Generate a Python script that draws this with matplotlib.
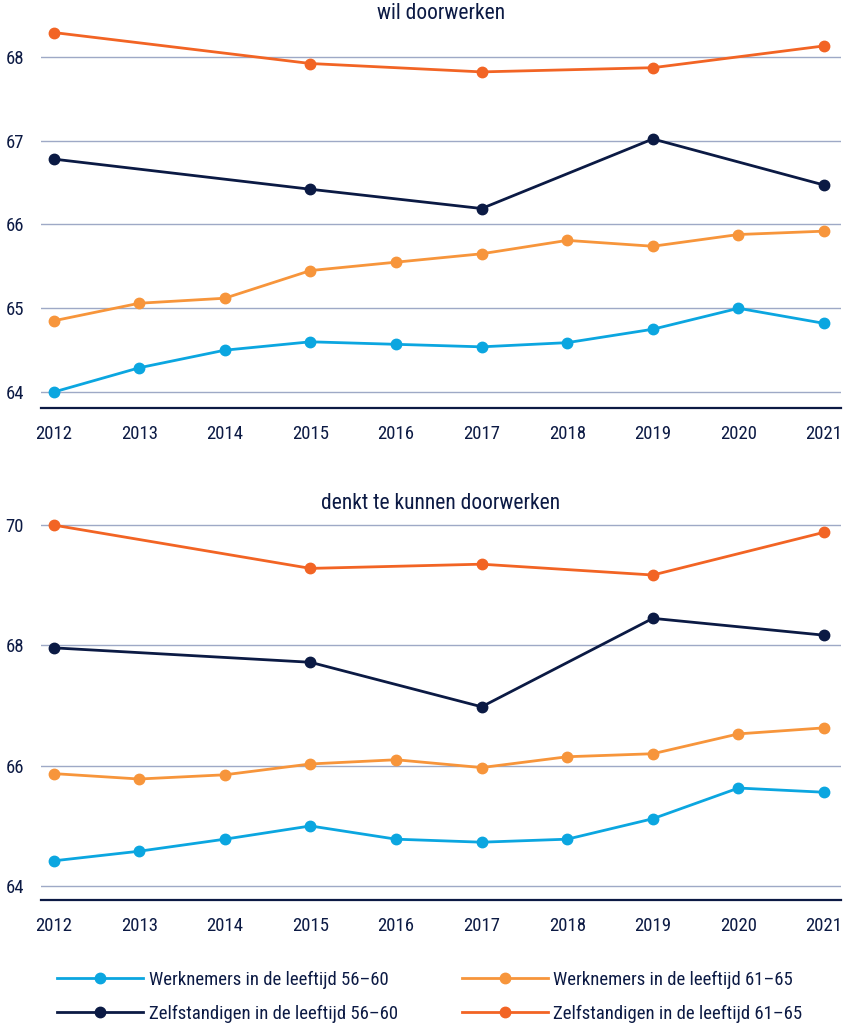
import matplotlib as mpl
import matplotlib.pyplot as plt
mpl.use('agg')

plt.rcParams['font.family'] = ['Liberation Sans Narrow', 'DejaVu Sans Condensed', 'Roboto Condensed', 'Roboto', 'DejaVu Sans']

##--  data  --##
years = [2012, 2013, 2014, 2015, 2016, 2017, 2018, 2019, 2020, 2021]
years_zelf = [2012, 2015, 2017, 2019, 2021]

# wil doorwerken
wil_werk_56_60 = [64.00, 64.29, 64.50, 64.60, 64.57, 64.54, 64.59, 64.75, 65.00, 64.82]
wil_werk_61_65 = [64.85, 65.06, 65.12, 65.45, 65.55, 65.65, 65.81, 65.74, 65.88, 65.92]
wil_zelf_56_60 = [66.78, 66.42, 66.19, 67.02, 66.47]
wil_zelf_61_65 = [68.29, 67.92, 67.82, 67.87, 68.13]

# denkt te kunnen doorwerken
kan_werk_56_60 = [64.42, 64.58, 64.78, 65.00, 64.78, 64.73, 64.78, 65.12, 65.63, 65.56]
kan_werk_61_65 = [65.87, 65.78, 65.85, 66.03, 66.10, 65.97, 66.15, 66.20, 66.53, 66.63]
kan_zelf_56_60 = [67.96, 67.72, 66.98, 68.45, 68.17]
kan_zelf_61_65 = [70.00, 69.28, 69.35, 69.17, 69.88]

labels = ['Werknemers in de leeftijd 56\u201360', 'Werknemers in de leeftijd 61\u201365',
          'Zelfstandigen in de leeftijd 56\u201360', 'Zelfstandigen in de leeftijd 61\u201365']

navy = '#0c1a44'
c_w56 = '#0ba6e0'
c_w61 = '#f7953b'
c_z56 = '#0b1a44'
c_z61 = '#f26424'
grid_c = '#9ea9c6'


def style_axes(ax, yticks, ylim, title):
  ax.set_xlim(2011.85, 2021.2)
  ax.set_ylim(*ylim)
  ax.set_yticks(yticks)
  ax.set_xticks(years)
  for y in yticks:
    ax.axhline(y, color=grid_c, linewidth=1.0, zorder=1)
  for s in ['top', 'right', 'left']:
    ax.spines[s].set_visible(False)
  ax.spines['bottom'].set_color(navy)
  ax.spines['bottom'].set_linewidth(1.6)
  ax.tick_params(axis='both', length=0, labelsize=13.5, colors=navy)
  ax.tick_params(axis='y', pad=12)
  ax.tick_params(axis='x', pad=12)
  ax.set_title(title, fontsize=15.5, color=navy, pad=4)
  return ax


def draw(ax, w56, w61, z56, z61):
  kw = dict(marker='o', markersize=7.5, linewidth=2.0, zorder=3)
  h1, = ax.plot(years, w56, color=c_w56, label=labels[0], **kw)
  h2, = ax.plot(years, w61, color=c_w61, label=labels[1], **kw)
  h3, = ax.plot(years_zelf, z56, color=c_z56, label=labels[2], **kw)
  h4, = ax.plot(years_zelf, z61, color=c_z61, label=labels[3], **kw)
  return [h1, h3, h2, h4]


fig = plt.figure(figsize=(8.48, 10.27), dpi=100)

ax1 = fig.add_axes([0.048, 0.6027, 0.944, 0.373])
style_axes(ax1, [64, 65, 66, 67, 68], (63.81, 68.38), 'wil doorwerken')
handles = draw(ax1, wil_werk_56_60, wil_werk_61_65, wil_zelf_56_60, wil_zelf_61_65)

ax2 = fig.add_axes([0.048, 0.1237, 0.944, 0.375])
style_axes(ax2, [64, 66, 68, 70], (63.77, 70.17), 'denkt te kunnen doorwerken')
draw(ax2, kan_werk_56_60, kan_werk_61_65, kan_zelf_56_60, kan_zelf_61_65)

leg = fig.legend(handles, [h.get_label() for h in handles], ncol=2, loc='lower left',
                 bbox_to_anchor=(0.067, 0.004), frameon=False, fontsize=13.5,
                 borderpad=0, borderaxespad=0,
                 handlelength=4.6, handletextpad=0.3, columnspacing=3.4, labelspacing=0.85)
for t in leg.get_texts():
  t.set_color(navy)

fig.savefig('out.png', dpi=100)
